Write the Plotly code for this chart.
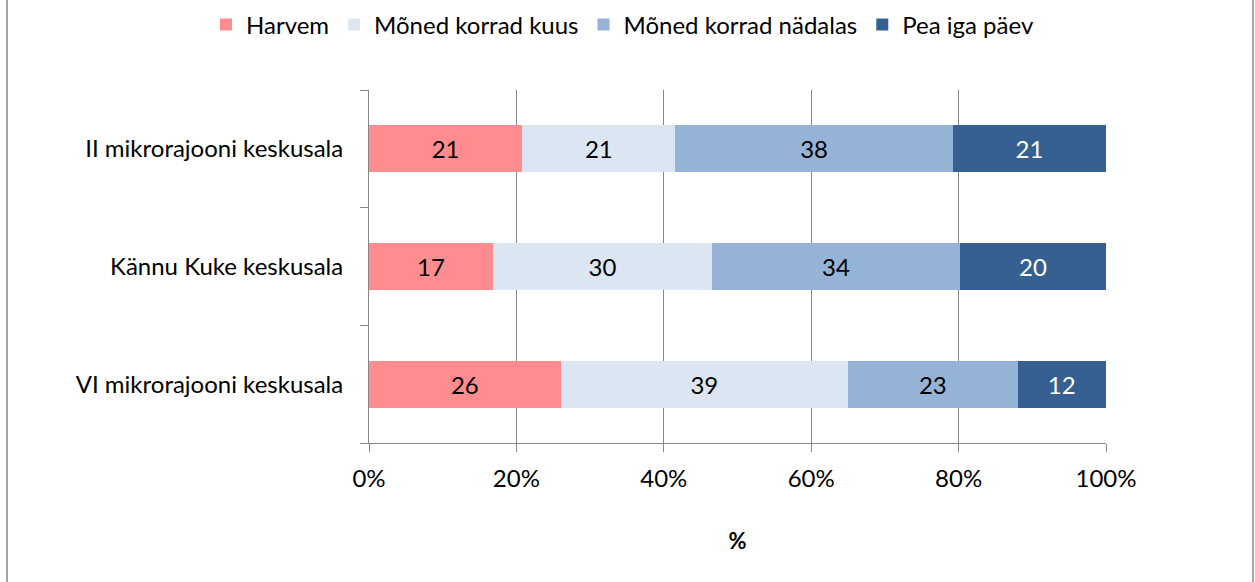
import plotly.graph_objects as go

categories = ["II mikrorajooni keskusala", "Kännu Kuke keskusala", "VI mikrorajooni keskusala"]
series_names = ["Harvem", "Mõned korrad kuus", "Mõned korrad nädalas", "Pea iga päev"]
harvem = [21, 17, 26]
kuus = [21, 30, 39]
nadalas = [38, 34, 23]
paev = [21, 20, 12]
x_ticks = [0, 20, 40, 60, 80, 100]
x_ticklabels = ["0%", "20%", "40%", "60%", "80%", "100%"]

colors = ["#FF8C8F", "#DCE6F2", "#95B3D7", "#366092"]
text_colors = ["#000000", "#000000", "#000000", "#FFFFFF"]
values = [harvem, kuus, nadalas, paev]

FONT = "Lato"
FS = 24
L, R, T, B = 369, 149, 90, 139
W, H = 1255, 582
PW = W - L - R
PH = H - T - B

fig = go.Figure()
for name, vals, col, tcol in zip(series_names, values, colors, text_colors):
    fig.add_trace(go.Bar(
        y=categories, x=vals, name=name, orientation="h",
        marker=dict(color=col, line=dict(width=0)),
        text=[str(v) for v in vals], textposition="inside",
        insidetextanchor="middle", textangle=0,
        textfont=dict(family=FONT, size=FS, color=tcol),
    ))

fig.update_layout(
    barmode="stack", barnorm="percent", bargap=0.6,
    width=W, height=H,
    margin=dict(l=L, r=R, t=T, b=B, autoexpand=False),
    paper_bgcolor="white", plot_bgcolor="white",
    font=dict(family=FONT, size=FS, color="#000000"),
    showlegend=True,
    legend=dict(orientation="h", xref="paper", yref="paper",
                x=(206 - L) / PW, xanchor="left",
                y=(H - B - 25) / PH, yanchor="middle",
                font=dict(family=FONT, size=FS), traceorder="normal",
                itemwidth=30, tracegroupgap=0,
                bgcolor="rgba(0,0,0,0)"),
    uniformtext=dict(mode=False),
)
fig.update_xaxes(
    range=[0, 100], tickvals=x_ticks, ticktext=x_ticklabels,
    showgrid=True, gridcolor="#868686", gridwidth=1,
    showline=True, linecolor="#868686", linewidth=1,
    ticks="outside", ticklen=8, tickcolor="#868686",
    tickfont=dict(family=FONT, size=FS), zeroline=False,
    ticklabelstandoff=6,
    title=dict(text="<b>%</b>", font=dict(family=FONT, size=22), standoff=42),
)
fig.update_yaxes(
    categoryorder="array", categoryarray=categories[::-1],
    showline=True, linecolor="#868686", linewidth=1,
    ticks="outside", ticklen=8, tickcolor="#868686", tickson="boundaries",
    tickfont=dict(family=FONT, size=FS), showgrid=False,
    ticklabelstandoff=20,
)
for px in (7, 1253):
    xp = (px - L) / PW
    fig.add_shape(type="line", xref="paper", yref="paper", x0=xp, x1=xp, y0=-1, y1=2,
                  line=dict(color="#868686", width=1.5))
fig.write_html("out.html", config={"displayModeBar": False},
               post_script="document.body.style.margin='0';")
